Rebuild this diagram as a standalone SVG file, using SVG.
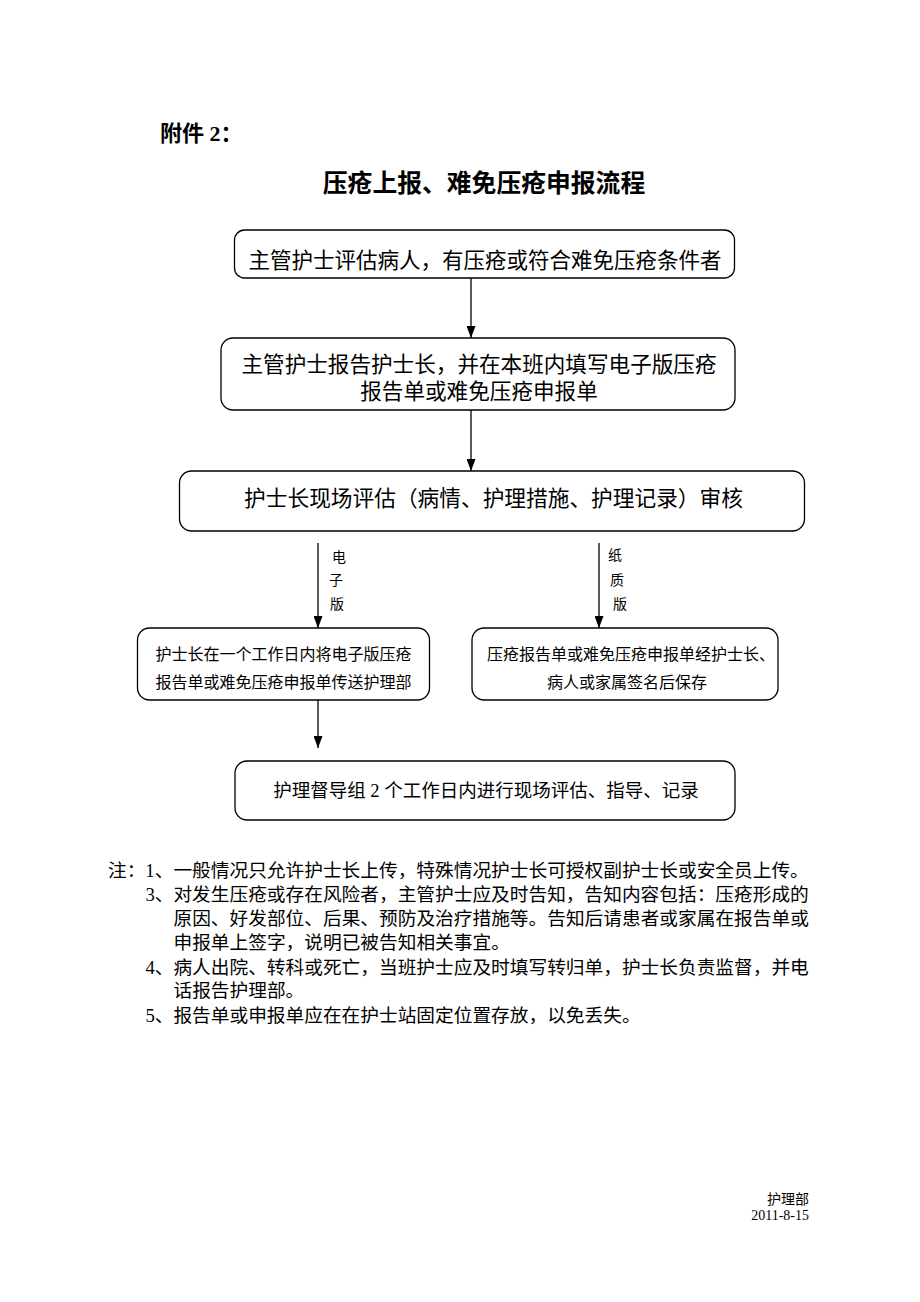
<svg xmlns="http://www.w3.org/2000/svg" width="920" height="1302" viewBox="0 0 920 1302">
<style>
.t{font-family:"Liberation Serif","Noto Sans CJK SC",serif;fill:#000}
.b{font-weight:bold}
.box{fill:#fff;stroke:#000;stroke-width:1.3}
.ln{stroke:#000;stroke-width:1.3;fill:none}
</style>
<defs>
<marker id="ah" viewBox="0 0 12 9" refX="12" refY="4.5" markerWidth="12" markerHeight="9" markerUnits="userSpaceOnUse" orient="auto">
<path d="M0,0 L12,4.5 L0,9 Z" fill="#000"/>
</marker>
</defs>
<rect width="920" height="1302" fill="#fff"/>
<g id="title">
<text class="t b" x="160" y="141" font-size="22">附件 2：</text>
<text class="t b" x="484" y="192" font-size="24.8" text-anchor="middle">压疮上报、难免压疮申报流程</text>
</g>
<g id="connectors">
<line class="ln" x1="471" y1="278" x2="471" y2="338" marker-end="url(#ah)"/>
<line class="ln" x1="471" y1="410" x2="471" y2="471" marker-end="url(#ah)"/>
<line class="ln" x1="318" y1="543" x2="318" y2="628" marker-end="url(#ah)"/>
<line class="ln" x1="599" y1="543" x2="599" y2="628" marker-end="url(#ah)"/>
<line class="ln" x1="318" y1="700" x2="318" y2="748" marker-end="url(#ah)"/>
<text class="t" font-size="14" text-anchor="middle"><tspan x="339" y="562">电</tspan><tspan x="336" y="585">子</tspan><tspan x="337" y="609">版</tspan></text>
<text class="t" font-size="14" text-anchor="middle"><tspan x="615" y="560">纸</tspan><tspan x="617" y="585">质</tspan><tspan x="620" y="609">版</tspan></text>
</g>
<g id="n1">
<rect class="box" x="234.5" y="230" width="500" height="48" rx="10"/>
<text class="t" x="485" y="268" font-size="21.5" text-anchor="middle">主管护士评估病人，有压疮或符合难免压疮条件者</text>
</g>
<g id="n2">
<rect class="box" x="221" y="338" width="514" height="72" rx="12"/>
<text class="t" x="479" y="371.5" font-size="21.6" text-anchor="middle">主管护士报告护士长，并在本班内填写电子版压疮</text>
<text class="t" x="479" y="398.5" font-size="21.6" text-anchor="middle">报告单或难免压疮申报单</text>
</g>
<g id="n3">
<rect class="box" x="179.5" y="471" width="625" height="60" rx="12"/>
<text class="t" x="493.5" y="506" font-size="21.7" text-anchor="middle">护士长现场评估（病情、护理措施、护理记录）审核</text>
</g>
<g id="n4">
<rect class="box" x="137.5" y="628" width="292" height="72" rx="12"/>
<text class="t" x="283.5" y="660" font-size="16" text-anchor="middle">护士长在一个工作日内将电子版压疮</text>
<text class="t" x="283.5" y="688" font-size="16" text-anchor="middle">报告单或难免压疮申报单传送护理部</text>
</g>
<g id="n5">
<rect class="box" x="472" y="628" width="306" height="72" rx="12"/>
<text class="t" x="487" y="660" font-size="16">压疮报告单或难免压疮申报单经护士长、</text>
<text class="t" x="627" y="688" font-size="16" text-anchor="middle">病人或家属签名后保存</text>
</g>
<g id="n6">
<rect class="box" x="235" y="761" width="500" height="59" rx="12"/>
<text class="t" x="486" y="797" font-size="18.5" text-anchor="middle">护理督导组 2 个工作日内进行现场评估、指导、记录</text>
</g>
<g id="notes">
<text class="t" font-size="18.7">
<tspan x="108" y="877">注：1、一般情况只允许护士长上传，特殊情况护士长可授权副护士长或安全员上传。</tspan>
<tspan x="145.4" y="901">3、对发生压疮或存在风险者，主管护士应及时告知，告知内容包括：压疮形成的</tspan>
<tspan x="173.5" y="925">原因、好发部位、后果、预防及治疗措施等。告知后请患者或家属在报告单或</tspan>
<tspan x="173.5" y="949">申报单上签字，说明已被告知相关事宜。</tspan>
<tspan x="145.4" y="974">4、病人出院、转科或死亡，当班护士应及时填写转归单，护士长负责监督，并电</tspan>
<tspan x="173.5" y="997">话报告护理部。</tspan>
<tspan x="145.4" y="1022">5、报告单或申报单应在在护士站固定位置存放，以免丢失。</tspan>
</text>
</g>
<g id="footer">
<text class="t" x="809" y="1204" font-size="14" text-anchor="end">护理部</text>
<text class="t" x="809" y="1220" font-size="14" text-anchor="end">2011-8-15</text>
</g>
</svg>
